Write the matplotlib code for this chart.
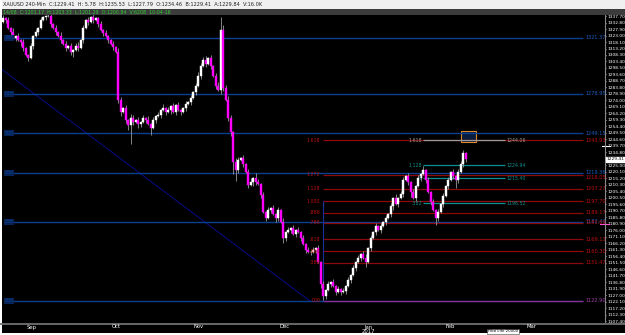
import matplotlib
matplotlib.use("Agg")
import matplotlib.pyplot as plt
import numpy as np
from matplotlib.patches import Rectangle

plt.rcParams["font.family"] = ["Liberation Sans Narrow", "DejaVu Sans"]

# 4H closes, one per bar (XAUUSD, Sep 2016 -> Feb 2017)
closes = [
    1336.2, 1334.7, 1328.6, 1325.6, 1321.1, 1322.6, 1319.6, 1318.1, 1313.5, 1308.3,
    1306.0, 1315.1, 1322.6, 1325.6, 1328.6, 1334.7, 1336.9, 1337.7, 1338.0, 1331.7,
    1328.6, 1325.6, 1322.6, 1319.6, 1316.6, 1313.5, 1315.1, 1310.5, 1312.0, 1315.1,
    1313.5, 1319.6, 1328.6, 1334.7, 1333.2, 1336.9, 1334.7, 1336.2, 1331.7, 1327.1,
    1324.9, 1322.6, 1319.6, 1316.6, 1314.3, 1310.5, 1274.3, 1265.2, 1268.2, 1259.2,
    1255.4, 1260.7, 1257.7, 1259.2, 1256.2, 1257.7, 1260.7, 1259.2, 1256.2, 1253.1,
    1259.2, 1262.2, 1263.0, 1266.7, 1268.2, 1265.2, 1266.7, 1269.7, 1265.2, 1270.5,
    1266.7, 1265.2, 1268.2, 1271.3, 1272.8, 1275.8, 1280.3, 1284.8, 1292.4, 1300.0,
    1304.5, 1301.5, 1306.0, 1300.0, 1292.4, 1284.8, 1281.8, 1327.1, 1283.3, 1274.3,
    1260.7, 1250.1, 1227.5, 1221.4, 1229.0, 1230.5, 1226.0, 1219.9, 1210.1, 1212.4,
    1215.4, 1212.4, 1210.9, 1202.6, 1189.7, 1185.2, 1191.2, 1192.7, 1188.2, 1185.2,
    1191.2, 1182.2, 1170.1, 1174.6, 1176.1, 1177.6, 1173.1, 1176.1, 1174.6, 1170.1,
    1165.6, 1161.0, 1159.5, 1159.5, 1161.0, 1162.5, 1152.0, 1135.4, 1126.3, 1130.8,
    1135.4, 1136.9, 1133.9, 1129.3, 1131.6, 1129.3, 1130.1, 1133.9, 1138.4, 1142.1,
    1147.4, 1152.0, 1155.0, 1158.0, 1155.0, 1152.0, 1162.5, 1170.1, 1174.6, 1179.1,
    1176.1, 1179.1, 1182.2, 1185.2, 1188.2, 1194.2, 1200.3, 1195.8, 1200.3, 1203.3,
    1213.9, 1216.9, 1212.4, 1204.8, 1200.3, 1209.4, 1215.4, 1218.4, 1221.4, 1213.9,
    1204.8, 1197.3, 1191.2, 1185.2, 1189.7, 1195.8, 1201.8, 1209.4, 1213.9, 1219.9,
    1216.9, 1213.9, 1219.9, 1226.0, 1234.3, 1229.41,
]
first_open = 1333.5
wick_up = [
    2, 1, 2, 1, 3, 1, 2, 1, 2, 1, 1, 2, 1, 2, 1, 2, 1, 1, 1, 2,
    1, 2, 1, 3, 1, 2, 1, 2, 1, 2, 3, 1, 2, 1, 2, 1, 2, 1, 1, 2,
    1, 2, 1, 1, 2, 1, 3, 2, 1, 2, 1, 3, 2, 1, 2, 1, 2, 1, 3, 1,
    2, 1, 2, 1, 3, 1, 2, 1, 2, 1, 2, 1, 1, 2, 1, 2, 1, 2, 3, 2,
    2, 3, 1, 2, 1, 2, 3, 10, 4, 2, 3, 2, 1, 3, 2, 1, 2, 1, 2, 3,
    1, 4, 2, 1, 2, 1, 2, 1, 2, 1, 2, 1, 3, 1, 2, 1, 2, 1, 2, 1,
    2, 1, 2, 1, 2, 1, 2, 1, 2, 1, 2, 1, 2, 1, 2, 1, 2, 1, 2, 1,
    2, 1, 2, 1, 2, 3, 1, 2, 1, 2, 1, 2, 1, 2, 1, 2, 1, 3, 1, 2,
    2, 1, 2, 1, 2, 1, 2, 1, 3, 1, 2, 1, 2, 1, 2, 1, 2, 1, 2, 1,
    2, 1, 2, 2, 2, 1,
]
wick_dn = [
    1, 2, 1, 2, 1, 2, 1, 3, 2, 1, 2, 1, 2, 1, 2, 1, 1, 2, 1, 2,
    1, 2, 1, 2, 1, 2, 1, 2, 4, 1, 2, 1, 2, 1, 2, 1, 2, 1, 2, 1,
    2, 1, 2, 1, 2, 1, 2, 3, 1, 2, 4, 14, 2, 1, 3, 2, 1, 2, 1, 5,
    1, 2, 1, 2, 1, 2, 1, 3, 1, 2, 1, 2, 1, 2, 1, 2, 1, 2, 1, 2,
    1, 2, 1, 2, 1, 2, 1, 3, 2, 1, 2, 3, 9, 8, 2, 1, 2, 1, 2, 1,
    3, 2, 1, 2, 1, 2, 1, 2, 1, 3, 2, 1, 4, 2, 1, 2, 1, 2, 1, 2,
    1, 2, 1, 2, 1, 2, 1, 3, 3, 2, 1, 2, 1, 2, 1, 2, 1, 2, 1, 2,
    1, 2, 1, 2, 1, 4, 1, 2, 1, 2, 1, 2, 1, 2, 1, 2, 3, 1, 2, 1,
    2, 1, 2, 4, 1, 2, 1, 2, 1, 2, 1, 2, 1, 5, 2, 1, 2, 1, 2, 1,
    2, 6, 2, 1, 2, 2,
]

# fibonacci retracement (blue, full width)
retr_low, retr_high = 1122.90, 1375.40
retr_levels = [0.786, 0.618, 0.5, 0.382, 0.236, 0.0]
retr_tags = ["786", "618", "500", "382", "236", "000"]
# fibonacci expansion from the December low (red)
ext_base, ext_one = 1122.90, 1197.70
ext_levels = [1.618, 1.272, 1.128, 1.0, 0.886, 0.786, 0.618, 0.5, 0.382]
ext_tags = ["1.618", "1.272", "1.128", "1.000", ".886", ".786", ".618", ".500", ".382"]
# small projection (teal / grey) over February
proj_prices = [1244.06, 1224.94, 1215.40, 1196.52]
proj_tags = ["1.618", "1.128", "1", ".382"]
proj_colors = ["#9a9a9a", "#0e8f8f", "#0e8f8f", "#0e8f8f"]

# anchors in bar units
retr_start, line_end = 3.5, 232.0
ext_start = 128.0
proj_start, proj_end = 168.0, 200.7
trend_a = ([-1.3, 122.7], [1298.4, 1122.5])
box_bars, box_prices = (183.2, 189.2), (1242.5, 1251.0)

months = ["Sep", "Oct", "Nov", "Dec", "Jan\n2017", "Feb", "Mar"]
month_bars = [11.2, 45.2, 78.0, 112.4, 146.0, 178.8, 211.2]
yticks = np.round(np.arange(1107.4, 1337.8, 4.9), 2)

last_price = 1229.41

fig = plt.figure(figsize=(6.25, 3.35), dpi=100, facecolor="black")
ax = fig.add_axes([2 / 625, 13 / 335, 603 / 625, 307 / 335], facecolor="black")

# candles
opens = [first_open] + closes[:-1]
for i, (o, c) in enumerate(zip(opens, closes)):
    hi = max(o, c) + wick_up[i]
    lo = min(o, c) - wick_dn[i]
    ax.vlines(i, lo, hi, color="#9a9a9a", lw=0.6, zorder=3)
    col = "white" if c >= o else "#ff00ff"
    h = max(abs(c - o), 0.4)
    ax.add_patch(Rectangle((i - 0.32, min(o, c)), 0.64, h, facecolor=col,
                           edgecolor=col, lw=0.3, zorder=4))

# retracement
span = retr_high - retr_low
for lv, tag in zip(retr_levels, retr_tags):
    p = retr_low + lv * span
    ax.hlines(p, retr_start, line_end, color="#0b3f92", lw=1.0, zorder=2)
    ax.text(0.5, p, tag, color="#0b3f92", fontsize=3.4, ha="left", va="center",
            bbox=dict(boxstyle="square,pad=0.1", fc="#062456", ec="none"), zorder=5)
    if lv > 0:
        ax.text(line_end + 0.8, p, f"{p:.2f}", color="#1d5fc4", fontsize=3.6,
                ha="left", va="center", zorder=5)

# expansion
espan = ext_one - ext_base
for lv, tag in zip(ext_levels, ext_tags):
    p = ext_base + lv * espan
    ax.hlines(p, ext_start, line_end, color="#8c0a0a", lw=0.9, zorder=2)
    ax.text(ext_start - 1.2, p, tag, color="#c01010", fontsize=3.4, ha="right",
            va="center", zorder=5)
    ax.text(line_end + 0.8, p, f"{p:.2f}", color="#c01010", fontsize=3.6,
            ha="left", va="top" if lv == 1.272 else "center", zorder=5)
ax.hlines(ext_base, ext_start, line_end, color="#8f2d93", lw=0.9, zorder=2)
ax.text(ext_start - 1.2, ext_base, "000", color="#c01010", fontsize=3.4,
        ha="right", va="center", zorder=5)
ax.text(line_end + 0.8, ext_base, f"{ext_base:.2f}", color="#a040a8",
        fontsize=3.6, ha="left", va="center", zorder=5)
ax.vlines(ext_start, ext_base, ext_one, color="#1a2fa0", lw=0.8, zorder=2)

# projection
for p, tag, col in zip(proj_prices, proj_tags, proj_colors):
    ax.hlines(p, proj_start, proj_end, color=col, lw=0.9, zorder=2)
    ax.text(proj_start - 0.6, p, tag, color=col, fontsize=3.4, ha="right",
            va="center", zorder=5)
    ax.text(proj_end + 0.6, p, f"{p:.2f}", color=col, fontsize=3.4,
            ha="left", va="center", zorder=5)

# trendline and box
ax.plot(trend_a[0], trend_a[1], color="#0a0a8a", lw=0.7, zorder=1)
ax.add_patch(Rectangle((box_bars[0], box_prices[0]), box_bars[1] - box_bars[0],
                       box_prices[1] - box_prices[0], facecolor="#0b1b3c",
                       edgecolor="#d98a2a", lw=0.8, zorder=1))

ax.set_xlim(-0.5, 240.7)
ax.set_ylim(1106.7, 1338.5)
ax.set_xticks([])
ax.yaxis.tick_right()
ax.set_yticks(yticks)
ax.set_yticklabels([f"{v:.2f}" for v in yticks])
ax.tick_params(axis="y", colors="white", labelsize=3.2, length=1.0, width=0.5, pad=0.5)
for s in ["top", "left", "bottom"]:
    ax.spines[s].set_visible(False)
ax.spines["right"].set_color("#8a8a8a")
ax.spines["right"].set_linewidth(0.8)

# current price marker
yt = ax.get_yaxis_transform()
ax.text(1.003, last_price, f"{last_price:.2f}", transform=yt, fontsize=3.2,
        color="black", va="center", ha="left",
        bbox=dict(boxstyle="square,pad=0.1", fc="white", ec="white"), zorder=6,
        clip_on=False)
ax.plot([0.995, 1.008], [1239.5, 1239.5], transform=yt, color="white", lw=0.8,
        clip_on=False)
ax.plot([0.992, 1.006], [1180.7, 1180.7], transform=yt, color="#ff4fd8", lw=0.8,
        clip_on=False)

# month labels below a grey rule
fig.add_artist(plt.Line2D([0, 1], [1 - 323.5 / 335] * 2, color="#707070", lw=1.3))
for lab, b in zip(months, month_bars):
    xf = (3.25 + 2.5 * b) / 625
    fig.text(xf, 1 - 324.5 / 335, lab, color="white", fontsize=3.8,
             ha="center", va="top", linespacing=0.9)

# header strips
fig.add_artist(Rectangle((0, 1 - 9 / 335), 1, 9 / 335, facecolor="#f0f0f0",
                         transform=fig.transFigure, zorder=0))
fig.add_artist(Rectangle((0, 1 - 14.5 / 335), 1, 5.5 / 335, facecolor="#3c3c3c",
                         transform=fig.transFigure, zorder=0))
fig.text(3 / 625, 1 - 4.5 / 335,
         "XAUUSD 240-Min  C:1229.41  H: 5.78  H:1235.53  L:1227.79  O:1234.46  "
         "B:1229.41  A:1229.84  V:16.0K", color="#202020", fontsize=3.6, va="center")
fig.text(3 / 625, 1 - 11.8 / 335,
         "14/08  C:1201.17  H:1203.33  L:1201.29  O:1200.84  V:6208  10-04-16",
         color="#32d232", fontsize=3.4, va="center")
# white frame bits
fig.add_artist(Rectangle((0, 0), 2 / 625, 1, facecolor="white",
                         transform=fig.transFigure, zorder=0))
fig.add_artist(Rectangle((0, 0), 1, 2 / 335, facecolor="white",
                         transform=fig.transFigure, zorder=0))
fig.text(503 / 625, 1.5 / 335, "Fibo Life 20000", fontsize=2.8, color="black",
         ha="center", va="bottom",
         bbox=dict(boxstyle="square,pad=0.2", fc="white", ec="#404040", lw=0.4))

fig.savefig("out.png", dpi=100, facecolor="black")
